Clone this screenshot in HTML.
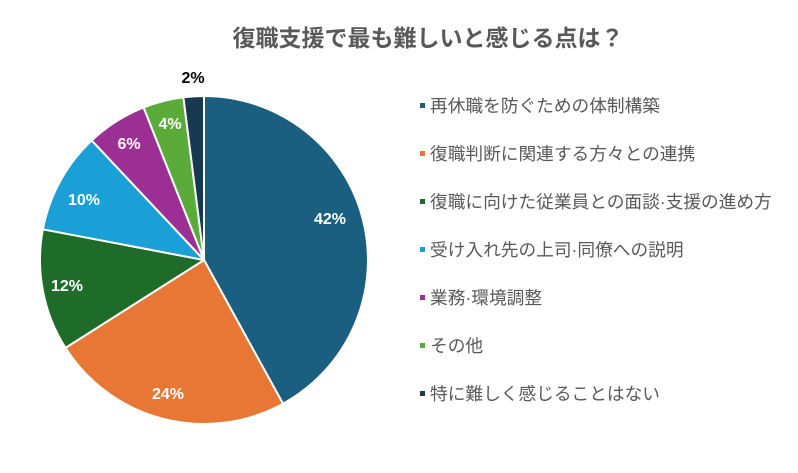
<!DOCTYPE html>
<html><head><meta charset="utf-8"><style>
body{margin:0;background:#fff;width:798px;height:468px;overflow:hidden;font-family:"Liberation Sans","Noto Sans CJK JP",sans-serif;}
</style></head><body>
<svg width="798" height="468" xmlns="http://www.w3.org/2000/svg" font-family="Liberation Sans, Noto Sans CJK JP, sans-serif">
<text x="428" y="46" text-anchor="middle" font-size="23" font-weight="bold" fill="#595959">復職支援で最も難しいと感じる点は？</text>
<g stroke="#fff" stroke-width="2" stroke-linejoin="round">
<path d="M204 260 L204 96 A164 164 0 0 1 283.0 403.7 Z" fill="#1a5e80"/>
<path d="M204 260 L283.0 403.7 A164 164 0 0 1 65.5 347.9 Z" fill="#e87634"/>
<path d="M204 260 L65.5 347.9 A164 164 0 0 1 42.9 229.3 Z" fill="#1e6b2a"/>
<path d="M204 260 L42.9 229.3 A164 164 0 0 1 91.7 140.4 Z" fill="#1a9fd6"/>
<path d="M204 260 L91.7 140.4 A164 164 0 0 1 143.6 107.5 Z" fill="#9b2f94"/>
<path d="M204 260 L143.6 107.5 A164 164 0 0 1 183.4 97.3 Z" fill="#5aab3a"/>
<path d="M204 260 L183.4 97.3 A164 164 0 0 1 204 96 Z" fill="#173a50"/>
</g>
<g font-size="16" font-weight="bold" fill="#fff" text-anchor="middle">
<text x="330" y="224">42%</text>
<text x="168" y="399">24%</text>
<text x="67" y="291">12%</text>
<text x="84" y="205">10%</text>
<text x="129" y="149">6%</text>
<text x="170" y="129">4%</text>
<text x="193" y="83" fill="#000">2%</text>
</g>
<g font-size="17.7" fill="#595959">
<rect x="420" y="103" width="5" height="5" fill="#1a5e80"/><text x="430" y="112">再休職を防ぐための体制構築</text>
<rect x="420" y="151" width="5" height="5" fill="#e87634"/><text x="430" y="160">復職判断に関連する方々との連携</text>
<rect x="420" y="199" width="5" height="5" fill="#1e6b2a"/><text x="430" y="208">復職に向けた従業員との面談·支援の進め方</text>
<rect x="420" y="247" width="5" height="5" fill="#1a9fd6"/><text x="430" y="256">受け入れ先の上司·同僚への説明</text>
<rect x="420" y="295" width="5" height="5" fill="#9b2f94"/><text x="430" y="304">業務·環境調整</text>
<rect x="420" y="343" width="5" height="5" fill="#5aab3a"/><text x="430" y="352">その他</text>
<rect x="420" y="391" width="5" height="5" fill="#173a50"/><text x="430" y="400">特に難しく感じることはない</text>
</g>
</svg>
</body></html>
